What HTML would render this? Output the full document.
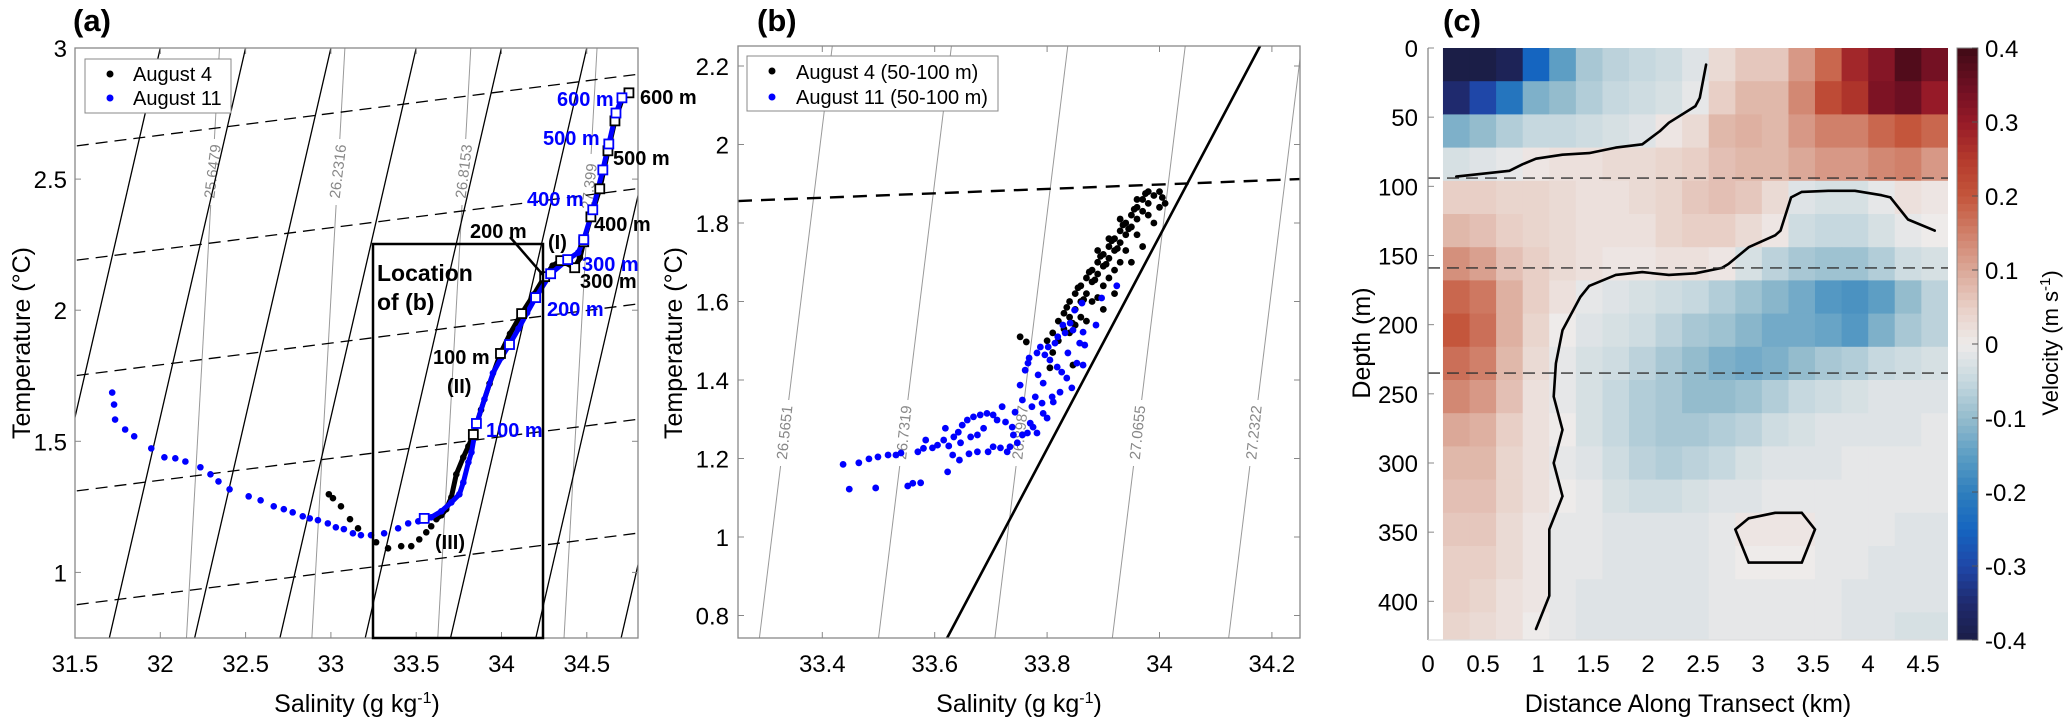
<!DOCTYPE html>
<html><head><meta charset="utf-8"><title>T-S diagrams and velocity section</title>
<style>
html,body{margin:0;padding:0;background:#fff;}
svg{display:block;font-family:"Liberation Sans",Arial,sans-serif;}
</style></head>
<body>
<svg id="fig" width="2067" height="720" viewBox="0 0 2067 720" xmlns="http://www.w3.org/2000/svg">
<defs>
<clipPath id="clipA"><rect x="75" y="48" width="563" height="590"/></clipPath>
<clipPath id="clipB"><rect x="738" y="46" width="562" height="592"/></clipPath>
<clipPath id="clipC"><rect x="1428" y="48" width="520" height="592"/></clipPath>
</defs>
<rect x="0" y="0" width="2067" height="720" fill="#fff"/>

<!-- Panel A -->
<g id="panelA">
  <g id="aBg" clip-path="url(#clipA)"></g>
  <g id="aData" clip-path="url(#clipA)"></g>
  <rect x="75" y="48" width="563" height="590" fill="none" stroke="#888" stroke-width="1.3"/>
  <g id="aTicks"></g>
  <rect x="373" y="244" width="170" height="394" fill="none" stroke="#000" stroke-width="2.5"/>
  <text x="377" y="281" font-size="23" font-weight="bold">Location</text>
  <text x="377" y="310" font-size="23" font-weight="bold">of (b)</text>
  <line x1="510" y1="237" x2="543" y2="275" stroke="#000" stroke-width="2.5"/>
  <g font-size="20" font-weight="bold">
    <text x="557" y="106" fill="#0000ff">600 m</text>
    <text x="640" y="104" fill="#000">600 m</text>
    <text x="543" y="145" fill="#0000ff">500 m</text>
    <text x="613" y="165" fill="#000">500 m</text>
    <text x="527" y="206" fill="#0000ff">400 m</text>
    <text x="594" y="231" fill="#000">400 m</text>
    <text x="470" y="238" fill="#000">200 m</text>
    <text x="548" y="249" fill="#000">(I)</text>
    <text x="582" y="271" fill="#0000ff">300 m</text>
    <text x="580" y="288" fill="#000">300 m</text>
    <text x="547" y="316" fill="#0000ff">200 m</text>
    <text x="433" y="364" fill="#000">100 m</text>
    <text x="447" y="393" fill="#000">(II)</text>
    <text x="486" y="437" fill="#0000ff">100 m</text>
    <text x="435" y="549" fill="#000">(III)</text>
  </g>
  <g>
    <rect x="85" y="59" width="146" height="54" fill="#fff" stroke="#888" stroke-width="1"/>
    <circle cx="110" cy="74" r="3.5" fill="#000"/>
    <text x="133" y="81" font-size="20">August 4</text>
    <circle cx="110" cy="98" r="3.5" fill="#0000ff"/>
    <text x="133" y="105" font-size="20">August 11</text>
  </g>
  <text x="73" y="31" font-size="31" font-weight="bold">(a)</text>
  <text x="357" y="712" font-size="25" text-anchor="middle">Salinity (g kg<tspan dy="-9" font-size="16">-1</tspan><tspan dy="9">)</tspan></text>
  <text transform="translate(30,343) rotate(-90)" font-size="25" text-anchor="middle">Temperature (°C)</text>
</g>

<!-- Panel B -->
<g id="panelB">
  <g id="bBg" clip-path="url(#clipB)"></g>
  <g id="bData" clip-path="url(#clipB)"></g>
  <rect x="738" y="46" width="562" height="592" fill="none" stroke="#888" stroke-width="1.3"/>
  <g id="bTicks"></g>
  <g>
    <rect x="747" y="56" width="251" height="55" fill="#fff" stroke="#888" stroke-width="1"/>
    <circle cx="772" cy="71" r="3.5" fill="#000"/>
    <text x="796" y="79" font-size="20">August 4 (50-100 m)</text>
    <circle cx="772" cy="97" r="3.5" fill="#0000ff"/>
    <text x="796" y="104" font-size="20">August 11 (50-100 m)</text>
  </g>
  <text x="757" y="31" font-size="31" font-weight="bold">(b)</text>
  <text x="1019" y="712" font-size="25" text-anchor="middle">Salinity (g kg<tspan dy="-9" font-size="16">-1</tspan><tspan dy="9">)</tspan></text>
  <text transform="translate(682,343) rotate(-90)" font-size="25" text-anchor="middle">Temperature (°C)</text>
</g>

<!-- Panel C -->
<g id="panelC">
  <g id="cCells" clip-path="url(#clipC)"></g>
  <g id="cContour" clip-path="url(#clipC)"></g>
  <g id="cDash" clip-path="url(#clipC)"></g>
  <line x1="1428" y1="48" x2="1428" y2="640" stroke="#888" stroke-width="1.3"/>
  <line x1="1428" y1="640" x2="1948" y2="640" stroke="#ddd" stroke-width="1.3"/>
  <g id="cTicks"></g>
  <g id="cbar"></g>
  <text x="1443" y="31" font-size="31" font-weight="bold">(c)</text>
  <text x="1688" y="712" font-size="25" text-anchor="middle">Distance Along Transect (km)</text>
  <text transform="translate(1370,343) rotate(-90)" font-size="25" text-anchor="middle">Depth (m)</text>
  <text transform="translate(2058,343) rotate(-90)" font-size="22" text-anchor="middle">Velocity (m s<tspan dy="-8" font-size="15">-1</tspan><tspan dy="8">)</tspan></text>
</g>
</svg>

<script>
const NS = "http://www.w3.org/2000/svg";
function mk(tag, attrs, parent){ const e=document.createElementNS(NS,tag); for(const k in attrs) e.setAttribute(k, attrs[k]); parent.appendChild(e); return e; }

/* ===== Panel A data ===== */
const aXTicks = [31.5,32,32.5,33,33.5,34,34.5];
const aXTickLabels = ["31.5","32","32.5","33","33.5","34","34.5"];
const aYTicks = [1,1.5,2,2.5,3];
const aYTickLabels = ["1","1.5","2","2.5","3"];
const aMixS0 = [31.5,32,32.5,33,33.5,34,34.5,35,35.5];
const aMixSlope = [0.355];
const aDashT0 = [0.876,1.31,1.75,2.19,2.626];
const aDashSlope = [0.083];
const aIsoS0 = [32.347,33.082,33.82,34.56];
const aIsoLabels = ["25.6479","26.2316","26.8153","27.399"];
const aIsoSlope = [0.086];
const blueS = [31.718,31.729,31.735,31.794,31.847,31.947,32.024,32.088,32.147,32.235,32.294,32.341,32.406,32.518,32.588,32.665,32.724,32.776,32.835,32.876,32.924,32.982,33.029,33.076,33.129,33.176,33.235,33.312,33.394,33.453,33.512,33.588,33.647,33.706,33.753,33.776,33.806,33.824,33.853,33.90,33.95,34.0,34.047,34.10,34.15,34.20,34.288,34.388,34.45,34.482,34.535,34.594,34.629,34.671,34.706];
const blueT = [1.686,1.640,1.583,1.545,1.519,1.473,1.439,1.435,1.423,1.401,1.374,1.347,1.317,1.290,1.275,1.252,1.241,1.229,1.214,1.206,1.199,1.187,1.172,1.165,1.149,1.142,1.142,1.149,1.168,1.187,1.195,1.210,1.233,1.267,1.298,1.343,1.420,1.458,1.564,1.66,1.76,1.82,1.869,1.93,1.99,2.048,2.139,2.193,2.22,2.269,2.383,2.535,2.634,2.752,2.810];
const blackS = [32.988,33.012,33.059,33.112,33.159,33.265,33.335,33.412,33.471,33.518,33.559,33.588,33.618,33.647,33.676,33.706,33.735,33.776,33.806,33.835,33.88,33.93,33.994,34.05,34.118,34.19,34.253,34.30,34.347,34.429,34.46,34.482,34.524,34.576,34.624,34.665,34.706,34.747];
const blackT = [1.298,1.283,1.252,1.203,1.168,1.115,1.092,1.100,1.100,1.126,1.153,1.176,1.203,1.218,1.241,1.286,1.374,1.439,1.481,1.526,1.62,1.72,1.835,1.91,1.987,2.06,2.128,2.17,2.189,2.162,2.20,2.261,2.356,2.463,2.608,2.722,2.802,2.829];
const blueSqS = [33.547,33.853,34.047,34.200,34.288,34.388,34.482,34.535,34.594,34.629,34.671,34.706];
const blueSqT = [1.206,1.568,1.869,2.048,2.139,2.193,2.269,2.383,2.535,2.634,2.752,2.810];
const blackSqS = [33.835,33.994,34.118,34.253,34.347,34.429,34.482,34.524,34.576,34.624,34.665,34.747];
const blackSqT = [1.526,1.835,1.987,2.128,2.189,2.162,2.261,2.356,2.463,2.608,2.722,2.829];

/* ===== Panel B data ===== */
const bXTicks = [33.4,33.6,33.8,34,34.2];
const bXTickLabels = ["33.4","33.6","33.8","34","34.2"];
const bYTicks = [0.8,1,1.2,1.4,1.6,1.8,2,2.2];
const bYTickLabels = ["0.8","1","1.2","1.4","1.6","1.8","2","2.2"];
const bIsoS = [33.333,33.545,33.752,33.961,34.168];
const bIsoLabels = ["26.5651","26.7319","26.8987","27.0655","27.2322"];
const bIsoSlope = [0.086];
const bSolidS = [33.658,34.179];
const bSolidT = [0.840,2.251];
const bDashS = [33.25,34.25];
const bDashT = [1.856,1.912];
const b11S = [33.437,33.448,33.465,33.483,33.499,33.517,33.531,33.495,33.552,33.561,33.575,33.540,33.570,33.580,33.584,33.596,33.605,33.616,33.619,33.625,33.623,33.632,33.634,33.642,33.644,33.646,33.649,33.658,33.661,33.664,33.669,33.676,33.676,33.681,33.687,33.693,33.695,33.704,33.704,33.711,33.717,33.720,33.726,33.729,33.734,33.738,33.740,33.743,33.747,33.752,33.756,33.756,33.761,33.765,33.766,33.768,33.770,33.773,33.775,33.779,33.782,33.782,33.784,33.788,33.791,33.793,33.793,33.796,33.800,33.802,33.805,33.809,33.811,33.814,33.818,33.819,33.823,33.826,33.828,33.832,33.835,33.837,33.841,33.844,33.846,33.849,33.853,33.858,33.862,33.864,33.867,33.864,33.887,33.924,33.897];
const b11T = [1.185,1.122,1.189,1.199,1.204,1.209,1.209,1.125,1.130,1.137,1.138,1.214,1.217,1.226,1.247,1.227,1.234,1.247,1.277,1.232,1.166,1.209,1.255,1.267,1.196,1.240,1.285,1.298,1.212,1.255,1.306,1.260,1.217,1.311,1.277,1.315,1.217,1.311,1.230,1.298,1.227,1.332,1.293,1.217,1.230,1.280,1.260,1.318,1.240,1.387,1.349,1.260,1.425,1.265,1.443,1.456,1.290,1.332,1.280,1.357,1.469,1.265,1.413,1.484,1.341,1.392,1.315,1.464,1.303,1.484,1.451,1.357,1.344,1.494,1.433,1.510,1.369,1.420,1.540,1.520,1.405,1.469,1.545,1.380,1.527,1.578,1.443,1.494,1.596,1.522,1.489,1.438,1.540,1.640,1.609];
const b4S = [33.80,33.81,33.82,33.83,33.83,33.84,33.84,33.85,33.85,33.86,33.86,33.87,33.87,33.88,33.88,33.89,33.89,33.90,33.90,33.91,33.91,33.92,33.92,33.93,33.93,33.94,33.94,33.95,33.95,33.96,33.96,33.97,33.97,33.98,33.99,34.00,34.01,33.98,33.96,33.94,33.92,33.90,33.88,33.86,33.84,33.87,33.90,33.92,33.95,33.97,33.89,33.91,33.93,33.85,33.82,33.752,33.763,33.805,33.846,33.81,33.99,34.00,33.98,33.96,33.93,33.91,33.89,33.835,33.855,33.875,33.895,33.915,33.935,33.955,33.975,33.905,33.925,33.945,33.885,33.865,33.845,34.005];
const b4T = [1.50,1.52,1.55,1.53,1.57,1.56,1.60,1.58,1.62,1.60,1.64,1.62,1.66,1.65,1.68,1.67,1.70,1.69,1.72,1.71,1.74,1.73,1.76,1.75,1.78,1.77,1.80,1.79,1.82,1.81,1.84,1.83,1.86,1.85,1.87,1.88,1.85,1.82,1.77,1.73,1.68,1.64,1.60,1.56,1.52,1.55,1.58,1.62,1.70,1.74,1.61,1.66,1.70,1.54,1.50,1.510,1.497,1.431,1.438,1.47,1.80,1.84,1.88,1.86,1.81,1.76,1.73,1.585,1.635,1.675,1.715,1.755,1.795,1.835,1.875,1.695,1.735,1.785,1.655,1.605,1.545,1.865];

/* ===== Panel C data ===== */
const cXTicks = [0,0.5,1,1.5,2,2.5,3,3.5,4,4.5];
const cXTickLabels = ["0","0.5","1","1.5","2","2.5","3","3.5","4","4.5"];
const cYTicks = [0,50,100,150,200,250,300,350,400];
const cYTickLabels = ["0","50","100","150","200","250","300","350","400"];
const distKm = [0.257,0.499,0.740,0.982,1.223,1.465,1.707,1.948,2.190,2.431,2.673,2.915,3.156,3.398,3.639,3.881,4.123,4.364,4.606];
const depthM = [12,36,60,84,108,132,156,180,204,228,252,276,300,324,348,372,396,420];
const velocityCm = [
 [-40,-40,-38,-25,-15,-8,-6,-5,-4,-2,3,6,6,12,18,28,32,38,34],
 [-35,-30,-22,-12,-10,-7,-5,-4,-3,-1,5,8,8,14,22,26,33,35,30],
 [-12,-10,-7,-5,-5,-4,-3,-2,1,3,8,9,8,12,15,15,18,20,18],
 [-3,-2,-1,1,2,2,3,3,4,5,7,8,8,10,12,12,14,15,12],
 [5,5,4,4,3,2,2,3,4,6,7,6,3,-2,-3,-3,-1,2,1],
 [8,7,5,4,3,2,2,2,4,5,5,3,1,-4,-5,-5,-3,-1,0],
 [13,11,7,5,3,2,1,1,2,2,1,-3,-6,-8,-9,-9,-7,-4,-3],
 [18,16,9,5,2,-1,-2,-3,-4,-5,-7,-9,-11,-13,-16,-17,-15,-10,-6],
 [20,17,9,4,0,-2,-3,-4,-6,-8,-9,-11,-13,-13,-14,-16,-12,-8,-6],
 [17,15,8,3,-1,-3,-4,-6,-8,-10,-12,-13,-12,-10,-8,-7,-5,-4,-3],
 [14,12,7,2,-1,-3,-5,-7,-8,-10,-10,-9,-7,-5,-4,-3,-2,-2,-2],
 [10,9,5,2,0,-3,-5,-7,-8,-8,-7,-6,-4,-3,-2,-2,-2,-2,-1],
 [8,8,4,2,-1,-2,-4,-6,-7,-6,-5,-3,-2,-2,-2,-1,-1,-1,-1],
 [7,7,4,2,0,-1,-3,-4,-4,-3,-2,-2,-1,-1,-1,-1,-1,-1,-1],
 [6,6,3,1,-1,-1,-2,-2,-2,-2,-1,1,1,1,-1,-1,-1,-2,-2],
 [5,5,3,1,-1,-1,-2,-2,-2,-2,-1,0,0,0,-1,-1,-2,-2,-2],
 [5,4,2,1,-1,-2,-2,-2,-2,-2,-1,-1,-1,-1,-1,-2,-2,-2,-2],
 [4,3,2,0,-1,-2,-2,-2,-2,-2,-1,-1,-1,-1,-1,-2,-2,-3,-3]
];
const refDepths = [94,159,235];
const cbarTicks = [-0.4,-0.3,-0.2,-0.1,0,0.1,0.2,0.3,0.4];
const cbarTickLabels = ["-0.4","-0.3","-0.2","-0.1","0","0.1","0.2","0.3","0.4"];

/* ===== Axis functions ===== */
const xA = s => 75 + (s-31.5)*170.6;
const yA = t => 48 + (3-t)*262.2;
const xB = s => 738 + (s-33.25)*562;
const yB = t => 66 + (2.2-t)*392.5;
const xC = km => 1428 + km*110;
const yC = d => 48 + d*1.3833;
const yCbar = v => 640 - (v+0.4)*740;

const cmStops = [[-0.4,[27,30,71]],[-0.35,[31,42,110]],[-0.3,[31,71,168]],[-0.25,[21,101,192]],[-0.2,[47,127,189]],[-0.15,[93,158,196]],[-0.1,[148,188,205]],[-0.05,[198,216,223]],[0,[238,235,234]],[0.05,[232,207,198]],[0.1,[219,168,152]],[0.15,[208,128,106]],[0.2,[196,86,60]],[0.25,[180,58,44]],[0.3,[150,26,40]],[0.35,[108,15,34]],[0.4,[63,10,22]]];
function cmap(v){
  v=Math.max(-0.4,Math.min(0.4,v));
  for(let i=0;i<cmStops.length-1;i++){
    const a=cmStops[i], b=cmStops[i+1];
    if(v<=b[0]){ const f=(v-a[0])/(b[0]-a[0]); const c=a[1].map((x,k)=>Math.round(x+(b[1][k]-x)*f)); return `rgb(${c[0]},${c[1]},${c[2]})`; }
  }
  return 'rgb(63,10,22)';
}

/* ===== Panel A drawing ===== */
(function(){
  const bg=document.getElementById('aBg'), dg=document.getElementById('aData'), tg=document.getElementById('aTicks');
  const Tlo=0.6, Thi=3.1;
  aIsoS0.forEach((s0,i)=>{
    const l=mk('line',{x1:xA(s0+aIsoSlope[0]*(Tlo-3)),y1:yA(Tlo),x2:xA(s0+aIsoSlope[0]*(Thi-3)),y2:yA(Thi),stroke:'#999','stroke-width':1},bg);
    
    
    const Tl = (i===3)?2.47:2.527;
    const lx=xA(s0+aIsoSlope[0]*(Tl-3)), ly=yA(Tl);
    const r=mk('rect',{x:lx-9,y:ly-33,width:18,height:66,fill:'#fff'},bg);
    
    
    const t=mk('text',{x:0,y:0,'font-size':15,fill:'#888','text-anchor':'middle',transform:`translate(${lx+5},${ly}) rotate(-83)`},bg);
    t.textContent=aIsoLabels[i];
    
    
  });
  aMixS0.forEach(s0=>{
    const l=mk('line',{x1:xA(s0+aMixSlope[0]*(Tlo-3)),y1:yA(Tlo),x2:xA(s0+aMixSlope[0]*(Thi-3)),y2:yA(Thi),stroke:'#000','stroke-width':1.3},bg);
    
    
  });
  aDashT0.forEach(t0=>{
    const l=mk('line',{x1:xA(31.4),y1:yA(t0+aDashSlope[0]*(-0.1)),x2:xA(35),y2:yA(t0+aDashSlope[0]*3.5),stroke:'#000','stroke-width':1.3,'stroke-dasharray':'12 7'},bg);
    
    
  });
  function path(S,T,minS){
    let d='';
    S.forEach((s,i)=>{ if(s>=minS){ d += (d?'L':'M')+xA(s).toFixed(1)+','+yA(T[i]).toFixed(1); } });
    return d;
  }
  const pk=mk('path',{d:path(blackS,blackT,33.6),fill:'none',stroke:'#000','stroke-width':5,'stroke-linejoin':'round'},dg);
  
  
  blackS.forEach((s,i)=>{
    const c=mk('circle',{cx:xA(s),cy:yA(blackT[i]),r:3.3,fill:'#000'},dg);
    
    
  });
  const pb=mk('path',{d:path(blueS,blueT,33.5),fill:'none',stroke:'#0000ff','stroke-width':5,'stroke-linejoin':'round'},dg);
  
  
  blueS.forEach((s,i)=>{
    const c=mk('circle',{cx:xA(s),cy:yA(blueT[i]),r:3.3,fill:'#0000ff'},dg);
    
    
  });
  blackSqS.forEach((s,i)=>{
    const q=mk('rect',{x:xA(s)-4.5,y:yA(blackSqT[i])-4.5,width:9,height:9,fill:'#fff',stroke:'#000','stroke-width':1.8},dg);
    
    
  });
  blueSqS.forEach((s,i)=>{
    const q=mk('rect',{x:xA(s)-4.5,y:yA(blueSqT[i])-4.5,width:9,height:9,fill:'#fff',stroke:'#0000ff','stroke-width':1.8},dg);
    
    
  });
  aXTicks.forEach((v,i)=>{
    const x=xA(v);
    const l=mk('line',{x1:x,y1:638,x2:x,y2:632,stroke:'#888','stroke-width':1},tg);
    
    
    const l2=mk('line',{x1:x,y1:48,x2:x,y2:54,stroke:'#888','stroke-width':1},tg);
    
    
    const t=mk('text',{x:x,y:672,'font-size':24,'text-anchor':'middle'},tg);
    t.textContent=aXTickLabels[i];
    
    
  });
  aYTicks.forEach((v,i)=>{
    const y=yA(v);
    const l=mk('line',{x1:75,y1:y,x2:81,y2:y,stroke:'#888','stroke-width':1},tg);
    
    
    const l2=mk('line',{x1:638,y1:y,x2:632,y2:y,stroke:'#888','stroke-width':1},tg);
    
    
    const t=mk('text',{x:67,y:y+9,'font-size':24,'text-anchor':'end'},tg);
    t.textContent=aYTickLabels[i];
    
    
  });
})();

/* ===== Panel B drawing ===== */
(function(){
  const bg=document.getElementById('bBg'), dg=document.getElementById('bData'), tg=document.getElementById('bTicks');
  const Tlo=0.6, Thi=2.4, Tref=1.265;
  bIsoS.forEach((s,i)=>{
    const l=mk('line',{x1:xB(s+bIsoSlope[0]*(Tlo-Tref)),y1:yB(Tlo),x2:xB(s+bIsoSlope[0]*(Thi-Tref)),y2:yB(Thi),stroke:'#999','stroke-width':1},bg);
    
    
    const lx=xB(s), ly=yB(Tref);
    const r=mk('rect',{x:lx-9,y:ly-33,width:18,height:66,fill:'#fff'},bg);
    
    
    const t=mk('text',{x:0,y:0,'font-size':15,fill:'#888','text-anchor':'middle',transform:`translate(${lx+5},${ly}) rotate(-84)`},bg);
    t.textContent=bIsoLabels[i];
    
    
  });
  const sk=(bSolidS[1]-bSolidS[0])/(bSolidT[1]-bSolidT[0]);
  const sl=mk('line',{x1:xB(bSolidS[0]+sk*(0.6-bSolidT[0])),y1:yB(0.6),x2:xB(bSolidS[0]+sk*(2.4-bSolidT[0])),y2:yB(2.4),stroke:'#000','stroke-width':2.6},bg);
  
  
  const dl=mk('line',{x1:xB(bDashS[0]),y1:yB(bDashT[0]),x2:xB(bDashS[1]),y2:yB(bDashT[1]),stroke:'#000','stroke-width':2.4,'stroke-dasharray':'14 9'},bg);
  
  
  b4S.forEach((s,i)=>{
    const c=mk('circle',{cx:xB(s),cy:yB(b4T[i]),r:3.4,fill:'#000'},dg);
    
    
  });
  b11S.forEach((s,i)=>{
    const c=mk('circle',{cx:xB(s),cy:yB(b11T[i]),r:3.4,fill:'#0000ff'},dg);
    
    
  });
  bXTicks.forEach((v,i)=>{
    const x=xB(v);
    const l=mk('line',{x1:x,y1:638,x2:x,y2:632,stroke:'#888','stroke-width':1},tg);
    
    
    const l2=mk('line',{x1:x,y1:46,x2:x,y2:52,stroke:'#888','stroke-width':1},tg);
    
    
    const t=mk('text',{x:x,y:672,'font-size':24,'text-anchor':'middle'},tg);
    t.textContent=bXTickLabels[i];
    
    
  });
  bYTicks.forEach((v,i)=>{
    const y=yB(v);
    const l=mk('line',{x1:738,y1:y,x2:744,y2:y,stroke:'#888','stroke-width':1},tg);
    
    
    const l2=mk('line',{x1:1300,y1:y,x2:1294,y2:y,stroke:'#888','stroke-width':1},tg);
    
    
    const t=mk('text',{x:729,y:y+9,'font-size':24,'text-anchor':'end'},tg);
    t.textContent=bYTickLabels[i];
    
    
  });
})();

/* ===== Panel C drawing ===== */
(function(){
  const cg=document.getElementById('cCells'), kg=document.getElementById('cContour'), dg=document.getElementById('cDash'), tg=document.getElementById('cTicks'), cb=document.getElementById('cbar');
  const hw=(distKm[1]-distKm[0])/2, hh=(depthM[1]-depthM[0])/2;
  velocityCm.forEach((row,r)=>{
    row.forEach((v,c)=>{
      const x0=xC(distKm[c]-hw), x1=xC(distKm[c]+hw), y0=yC(depthM[r]-hh), y1=yC(depthM[r]+hh);
      const rc=mk('rect',{x:x0.toFixed(2),y:y0.toFixed(2),width:(x1-x0+0.6).toFixed(2),height:(y1-y0+0.6).toFixed(2),fill:cmap(v/100)},cg);
      
      
    });
  });
  let d='';
  const nr=velocityCm.length, nc=velocityCm[0].length;
  for(let r=0;r<nr-1;r++){
    for(let c=0;c<nc-1;c++){
      const v00=velocityCm[r][c], v01=velocityCm[r][c+1], v11=velocityCm[r+1][c+1], v10=velocityCm[r+1][c];
      const pts=[];
      const ex=(a,b,xa,ya,xb,yb)=>{ if((a<0)!==(b<0)){ const f=a/(a-b); pts.push([xa+(xb-xa)*f, ya+(yb-ya)*f]); } };
      const X0=xC(distKm[c]), X1=xC(distKm[c+1]), Y0=yC(depthM[r]), Y1=yC(depthM[r+1]);
      ex(v00,v01,X0,Y0,X1,Y0);
      ex(v01,v11,X1,Y0,X1,Y1);
      ex(v11,v10,X1,Y1,X0,Y1);
      ex(v10,v00,X0,Y1,X0,Y0);
      for(let k=0;k+1<pts.length;k+=2){
        d+=`M${pts[k][0].toFixed(1)},${pts[k][1].toFixed(1)}L${pts[k+1][0].toFixed(1)},${pts[k+1][1].toFixed(1)}`;
      }
    }
  }
  const cp=mk('path',{d:d,fill:'none',stroke:'#000','stroke-width':2.6,'stroke-linecap':'round'},kg);
  
  
  refDepths.forEach(z=>{
    const l=mk('line',{x1:1428,y1:yC(z),x2:1948,y2:yC(z),stroke:'#333','stroke-width':1.4,'stroke-dasharray':'12 7'},dg);
    
    
  });
  cXTicks.forEach((v,i)=>{
    const x=xC(v);
    const t=mk('text',{x:x,y:672,'font-size':24,'text-anchor':'middle'},tg);
    t.textContent=cXTickLabels[i];
    
    
  });
  cYTicks.forEach((v,i)=>{
    const y=yC(v);
    const l=mk('line',{x1:1428,y1:y,x2:1434,y2:y,stroke:'#888','stroke-width':1},tg);
    
    
    const t=mk('text',{x:1418,y:y+9,'font-size':24,'text-anchor':'end'},tg);
    t.textContent=cYTickLabels[i];
    
    
  });
  const N=80;
  for(let i=0;i<N;i++){
    const v0=-0.4+0.8*i/N, v1=-0.4+0.8*(i+1)/N;
    const r=mk('rect',{x:1957,y:yCbar(v1).toFixed(2),width:21,height:(yCbar(v0)-yCbar(v1)+0.5).toFixed(2),fill:cmap((v0+v1)/2)},cb);
    
    
  }
  const fr=mk('rect',{x:1957,y:48,width:21,height:592,fill:'none',stroke:'#888','stroke-width':1},cb);
  
  
  cbarTicks.forEach((v,i)=>{
    const y=yCbar(v);
    const l=mk('line',{x1:1972,y1:y,x2:1978,y2:y,stroke:'#555','stroke-width':1},cb);
    
    
    const t=mk('text',{x:1985,y:y+9,'font-size':24},cb);
    t.textContent=cbarTickLabels[i];
    
    
  });
})();
</script>
</body></html>
